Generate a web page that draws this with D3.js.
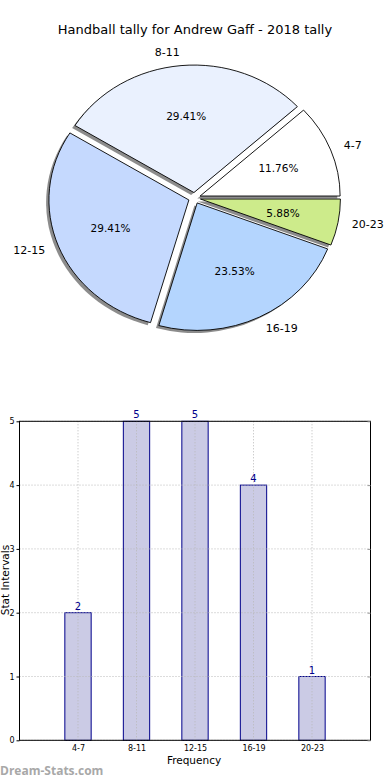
<!DOCTYPE html>
<html>
<head>
<meta charset="utf-8">
<script src="https://cdn.jsdelivr.net/npm/d3@7/dist/d3.min.js"></script>
<style>
  html, body { margin: 0; padding: 0; background: #fff; }
  svg { display: block; font-family: "DejaVu Sans", sans-serif; }
</style>
</head>
<body>
<svg id="chart" width="390" height="780"></svg>
<script>
const categories = ["4-7", "8-11", "12-15", "16-19", "20-23"];
const counts = [2, 5, 5, 4, 1];
const yTicks = [0, 1, 2, 3, 4, 5];
const pieColors = ["#ffffff", "#eaf1fe", "#c5d9fe", "#b4d5fe", "#cdeb8b"];
const title = "Handball tally for Andrew Gaff - 2018 tally";

(function () {
const svg = d3.select("#chart");

// ---------- Pie ----------
const cx = 194.5, cy = 198, rx = 140, ry = 127.5, ex = 0.043;
svg.append("text").attr("x", 195).attr("y", 34).attr("text-anchor", "middle")
  .attr("font-size", 13).attr("fill", "#000").text(title);

const total = d3.sum(counts);
const pie = d3.pie().sort(null).startAngle(Math.PI / 2).endAngle(Math.PI / 2 - 2 * Math.PI);
const arcs = pie(counts);
const arcGen = d3.arc().innerRadius(0).outerRadius(1);
const pieG = svg.append("g").attr("transform", `translate(${cx},${cy}) scale(${rx},${ry})`);

function off(d, k) {
  const m = (d.startAngle + d.endAngle) / 2;
  return [k * Math.sin(m), -k * Math.cos(m)];
}
arcs.forEach((d) => {
  const [ox, oy] = off(d, ex);
  pieG.append("path").attr("d", arcGen(d))
    .attr("transform", `translate(${ox - 0.02},${oy + 0.02})`)
    .attr("fill", "#000").attr("fill-opacity", 0.45);
});
arcs.forEach((d, i) => {
  const [ox, oy] = off(d, ex);
  pieG.append("path").attr("d", arcGen(d))
    .attr("transform", `translate(${ox},${oy})`)
    .attr("fill", pieColors[i]).attr("stroke", "#000")
    .attr("stroke-width", 0.9).attr("vector-effect", "non-scaling-stroke");
});
arcs.forEach((d, i) => {
  const [lx, ly] = off(d, ex + 1.1);
  svg.append("text").attr("x", cx + lx * rx).attr("y", cy + ly * ry)
    .attr("text-anchor", lx > 0 ? "start" : "end").attr("dominant-baseline", "central")
    .attr("font-size", 11).text(categories[i]);
  const [px, py] = off(d, ex + 0.6);
  svg.append("text").attr("x", cx + px * rx).attr("y", cy + py * ry)
    .attr("text-anchor", "middle").attr("dominant-baseline", "central")
    .attr("font-size", 10.5).text(d3.format(".2f")(counts[i] / total * 100) + "%");
});

// ---------- Bar chart ----------
const pl = 19.5, pr = 370.5, pt = 421.3, pb = 740.3;
const x = d3.scaleLinear().domain([-1, 5]).range([pl, pr]);
const y = d3.scaleLinear().domain([0, 5]).range([pb, pt]);
const bw = 0.45;

svg.append("g").selectAll("rect").data(counts).join("rect")
  .attr("x", (d, i) => x(i - bw / 2)).attr("width", x(bw) - x(0))
  .attr("y", d => y(d)).attr("height", d => y(0) - y(d))
  .attr("fill", "#cbcbe5").attr("stroke", "#00008b").attr("stroke-width", 1);

const grid = svg.append("g").attr("stroke", "#b8b8b8").attr("stroke-width", 1).attr("stroke-dasharray", "1,2");
yTicks.forEach(t => grid.append("line").attr("x1", pl).attr("x2", pr).attr("y1", y(t)).attr("y2", y(t)));
categories.forEach((c, i) => grid.append("line").attr("x1", x(i)).attr("x2", x(i)).attr("y1", pt).attr("y2", pb));

svg.append("rect").attr("x", pl).attr("y", pt).attr("width", pr - pl).attr("height", pb - pt)
  .attr("fill", "none").attr("stroke", "#000").attr("stroke-width", 1);

const yAxis = d3.axisLeft(y).tickValues(yTicks).tickSize(3).tickPadding(2).tickFormat(d3.format("d"));
const yg = svg.append("g").attr("transform", `translate(${pl},0)`).call(yAxis);
yg.select(".domain").remove();
yg.selectAll("text").attr("font-size", 8).attr("font-family", "DejaVu Sans, sans-serif");
const yr = svg.append("g").attr("transform", `translate(${pr},0)`).call(d3.axisLeft(y).tickValues(yTicks).tickSize(3).tickFormat(""));
yr.select(".domain").remove();
yr.selectAll("line").attr("stroke", "#999");

const xAxis = d3.axisBottom(x).tickValues(d3.range(categories.length)).tickSize(0).tickPadding(5)
  .tickFormat(i => categories[i]);
const xg = svg.append("g").attr("transform", `translate(0,${pb})`).call(xAxis);
xg.select(".domain").remove();
xg.selectAll("text").attr("font-size", 8).attr("font-family", "DejaVu Sans, sans-serif");

svg.append("g").selectAll("text").data(counts).join("text")
  .attr("x", (d, i) => x(i)).attr("y", d => y(d) - 3)
  .attr("text-anchor", "middle").attr("font-size", 10).attr("fill", "#00008b").text(d => d);

svg.append("text").attr("x", 194).attr("y", 764).attr("text-anchor", "middle").attr("font-size", 10.5).text("Frequency");
svg.append("text").attr("transform", "translate(9,580) rotate(-90)").attr("text-anchor", "middle")
  .attr("font-size", 10.5).text("Stat Intervals");

svg.append("text").attr("x", 0).attr("y", 775).attr("font-size", 12).attr("font-weight", "bold")
  .attr("font-family", "Open Sans, sans-serif").attr("fill", "#a8a8a8").text("Dream-Stats.com");
})();
</script>
</body>
</html>
